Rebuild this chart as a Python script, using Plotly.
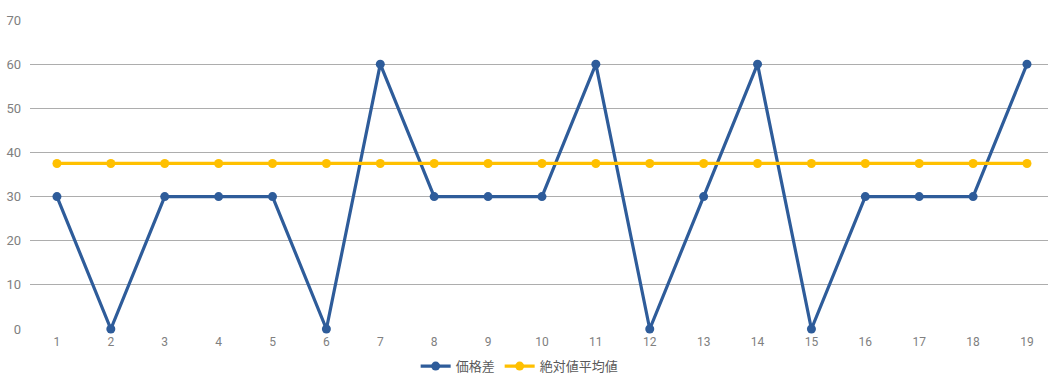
import plotly.graph_objects as go

# Data
categories = list(range(1, 20))
price_diff = [30, 0, 30, 30, 30, 0, 60, 30, 30, 30, 60, 0, 30, 60, 0, 30, 30, 30, 60]
abs_mean = [37.5] * 19
series_names = ["価格差", "絶対値平均値"]
y_ticks = [0, 10, 20, 30, 40, 50, 60, 70]

blue = "#2E5C9A"
yellow = "#FFC000"
font_family = "Roboto, Noto Sans CJK JP, sans-serif"

fig = go.Figure()
fig.add_trace(go.Scatter(
    x=categories, y=price_diff, name=series_names[0], mode="lines+markers",
    line=dict(color=blue, width=3.2), marker=dict(color=blue, size=9),
    cliponaxis=False,
))
fig.add_trace(go.Scatter(
    x=categories, y=abs_mean, name=series_names[1], mode="lines+markers",
    line=dict(color=yellow, width=3.2), marker=dict(color=yellow, size=9),
    cliponaxis=False,
))

fig.update_layout(
    width=1048, height=374,
    margin=dict(l=30, r=0, t=20, b=45, autoexpand=False),
    paper_bgcolor="white", plot_bgcolor="white",
    font=dict(family=font_family, size=12, color="#808080"),
    showlegend=True,
    legend=dict(orientation="h", x=0.481, xanchor="center",
                yref="container", y=0.021, yanchor="middle",
                font=dict(family="Noto Sans CJK JP, sans-serif", size=13, color="#595959"),
                itemwidth=30, tracegroupgap=0, traceorder="normal",
                bgcolor="rgba(0,0,0,0)"),
    xaxis=dict(
        range=[0.5, 19.39], tickvals=categories, ticktext=[str(c) for c in categories],
        showgrid=False, zeroline=False, showline=False, ticks="",
        tickfont=dict(size=12, color="#808080"), ticklabelstandoff=4,
    ),
    yaxis=dict(
        range=[0, 70], tickvals=y_ticks, showgrid=True, gridcolor="#ADADAD", gridwidth=1,
        zeroline=False, showline=False, ticks="", ticklabelstandoff=8,
        tickfont=dict(size=13, color="#808080"),
    ),
)

fig.write_html("out.html")
